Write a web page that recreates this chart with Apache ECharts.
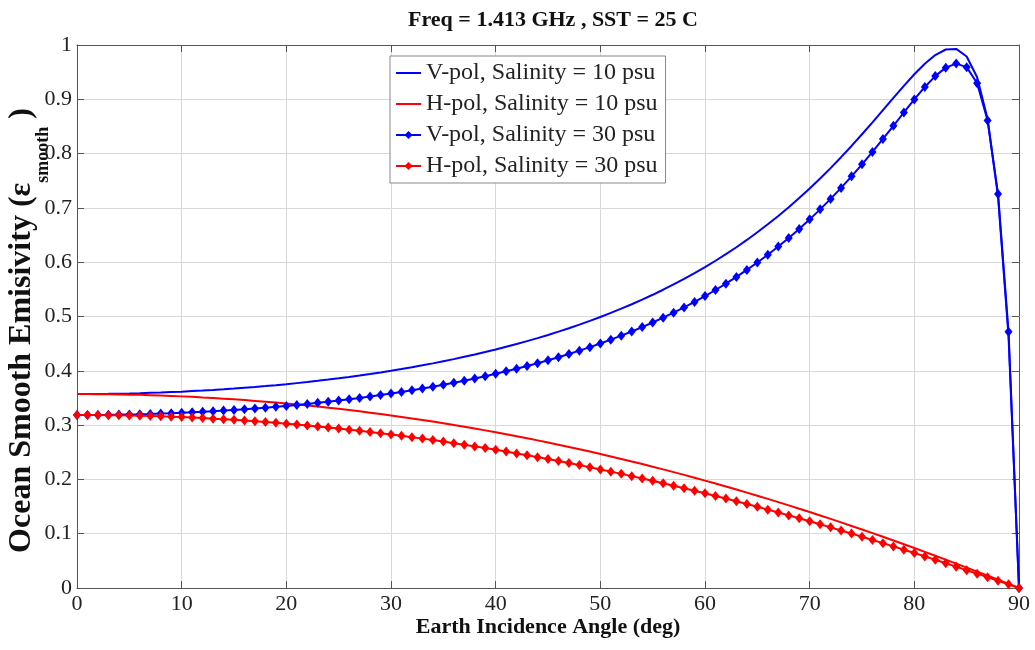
<!DOCTYPE html>
<html>
<head>
<meta charset="utf-8">
<script src="https://cdn.jsdelivr.net/npm/echarts@6/dist/echarts.min.js"></script>
<style>html,body{margin:0;padding:0;background:#fff}#c{width:1035px;height:650px}</style>
</head>
<body>
<div id="c"></div>
<script>
// Earth incidence angle (deg)
const angles = [0,1,2,3,4,5,6,7,8,9,10,11,12,13,14,15,16,17,18,19,20,21,22,23,24,25,26,27,28,29,30,31,32,33,34,35,36,37,38,39,40,41,42,43,44,45,46,47,48,49,50,51,52,53,54,55,56,57,58,59,60,61,62,63,64,65,66,67,68,69,70,71,72,73,74,75,76,77,78,79,80,81,82,83,84,85,86,87,88,89,90];

const vpol10 = [.3572,.3573,.3574,.3576,.3579,.3583,.3588,.3594,.3600,.3608,
.3616,.3626,.3636,.3647,.3659,.3672,.3687,.3702,.3718,.3735,
.3753,.3773,.3793,.3815,.3838,.3862,.3887,.3913,.3941,.3970,
.4001,.4033,.4066,.4101,.4137,.4176,.4215,.4257,.4300,.4345,
.4392,.4442,.4493,.4546,.4602,.4660,.4721,.4784,.4850,.4919,
.4991,.5066,.5144,.5226,.5311,.5400,.5493,.5590,.5692,.5799,
.5910,.6027,.6149,.6276,.6410,.6551,.6698,.6851,.7012,.7181,
.7356,.7541,.7733,.7934,.8141,.8356,.8576,.8800,.9025,.9248,
.9462,.9655,.9815,.9917,.9928,.9787,.9407,.8636,.7206,.4637,
0];

const hpol10 = [.3572,.3572,.3570,.3568,.3565,.3561,.3557,.3551,.3544,.3537,
.3529,.3520,.3509,.3499,.3487,.3474,.3460,.3446,.3431,.3414,
.3397,.3379,.3361,.3341,.3320,.3299,.3276,.3253,.3229,.3204,
.3178,.3151,.3123,.3094,.3065,.3034,.3003,.2971,.2937,.2903,
.2868,.2832,.2796,.2758,.2719,.2680,.2639,.2598,.2556,.2512,
.2468,.2423,.2377,.2331,.2283,.2234,.2185,.2134,.2083,.2031,
.1978,.1924,.1869,.1813,.1756,.1699,.1641,.1581,.1521,.1460,
.1399,.1336,.1273,.1208,.1143,.1077,.1011,.0943,.0875,.0806,
.0736,.0666,.0594,.0522,.0450,.0376,.0302,.0228,.0152,.0077,
0];

const vpol30 = [.3187,.3187,.3188,.3190,.3193,.3197,.3201,.3206,.3213,.3219,
.3227,.3236,.3245,.3255,.3267,.3279,.3292,.3306,.3321,.3336,
.3353,.3371,.3390,.3410,.3431,.3453,.3476,.3500,.3526,.3553,
.3581,.3611,.3641,.3674,.3707,.3743,.3780,.3818,.3858,.3900,
.3944,.3990,.4037,.4087,.4139,.4193,.4250,.4309,.4371,.4436,
.4503,.4574,.4647,.4724,.4805,.4890,.4978,.5070,.5168,.5269,
.5376,.5488,.5605,.5729,.5858,.5994,.6137,.6288,.6447,.6613,
.6789,.6973,.7166,.7368,.7581,.7802,.8031,.8270,.8512,.8757,
.8998,.9227,.9427,.9583,.9657,.9592,.9295,.8609,.7254,.4718,
0];

const hpol30 = [.3187,.3186,.3185,.3183,.3180,.3177,.3172,.3167,.3161,.3154,
.3147,.3138,.3129,.3119,.3108,.3097,.3084,.3071,.3057,.3042,
.3027,.3010,.2993,.2975,.2956,.2937,.2916,.2895,.2873,.2850,
.2826,.2802,.2777,.2751,.2724,.2696,.2667,.2638,.2608,.2577,
.2545,.2513,.2479,.2445,.2410,.2375,.2338,.2301,.2263,.2224,
.2184,.2143,.2102,.2060,.2017,.1974,.1929,.1884,.1838,.1791,
.1744,.1696,.1647,.1597,.1546,.1495,.1443,.1390,.1337,.1283,
.1228,.1173,.1117,.1060,.1002,.0944,.0885,.0826,.0766,.0705,
.0644,.0582,.0519,.0456,.0393,.0328,.0264,.0199,.0133,.0067,
0];

const seriesNames = ['V-pol, Salinity = 10 psu','H-pol, Salinity = 10 psu','V-pol, Salinity = 30 psu','H-pol, Salinity = 30 psu'];
const xTicks = {min:0, max:90, interval:10};
const yTicks = {min:0, max:1, interval:0.1};

const FONT = 'Liberation Serif';
const pairs = (ys) => angles.map((a, i) => [a, ys[i]]);
const axisCol = '#555';

const chart = echarts.init(document.getElementById('c'), null, {renderer:'canvas'});

const baseAxis = {
  type:'value',
  axisLine:{show:true, onZero:false, lineStyle:{color:axisCol, width:1}},
  axisTick:{show:true, inside:true, length:7, lineStyle:{color:axisCol}},
};

chart.setOption({
  animation:false,
  backgroundColor:'#fff',
  title:{
    text:'Freq = 1.413 GHz , SST = 25 C',
    left:548, top:4, textAlign:'center',
    textStyle:{fontFamily:FONT, fontWeight:'bold', fontSize:22, color:'#111'}
  },
  grid:{left:77, right:16, top:45, bottom:62, containLabel:false, outerBoundsMode:'none'},
  legend:{
    data:[
      {name:seriesNames[0], itemStyle:{opacity:0}},
      {name:seriesNames[1], itemStyle:{opacity:0}},
      {name:seriesNames[2]},
      {name:seriesNames[3]}
    ],
    orient:'vertical', left:390, top:56,
    itemWidth:25, itemHeight:10, itemGap:7, padding:[5,8,5,5],
    backgroundColor:'#fff', borderColor:'#888', borderWidth:1,
    selectedMode:false,
    textStyle:{fontFamily:FONT, fontSize:24, lineHeight:24, color:'#222'}
  },
  xAxis:[
    Object.assign({}, baseAxis, {
      min:xTicks.min, max:xTicks.max, interval:xTicks.interval, position:'bottom',
      axisLabel:{margin:5, fontFamily:FONT, fontSize:22, color:'#222'},
      splitLine:{show:true, lineStyle:{color:'#d8d8d8', width:1}},
      name:'Earth Incidence Angle (deg)', nameLocation:'middle', nameGap:28, nameMoveOverlap:false,
      nameTextStyle:{fontFamily:FONT, fontWeight:'bold', fontSize:22, color:'#111'}
    }),
    Object.assign({}, baseAxis, {
      min:xTicks.min, max:xTicks.max, interval:xTicks.interval, position:'top',
      axisLabel:{show:false}, splitLine:{show:false}
    })
  ],
  yAxis:[
    Object.assign({}, baseAxis, {
      min:yTicks.min, max:yTicks.max, interval:yTicks.interval, position:'left',
      axisLabel:{margin:5, fontFamily:FONT, fontSize:22, color:'#222'},
      splitLine:{show:true, lineStyle:{color:'#d8d8d8', width:1}},
      name:'{b|Ocean Smooth Emisivity (}{b|ε}{s|smooth}{e| )}',
      nameLocation:'middle', nameGap:39, nameMoveOverlap:false,
      nameTextStyle:{
        fontFamily:FONT, fontWeight:'bold', fontSize:32, color:'#111',
        rich:{
          b:{fontFamily:FONT, fontWeight:'bold', fontSize:32, lineHeight:32, verticalAlign:'top', color:'#111'},
          e:{fontFamily:FONT, fontWeight:'bold', fontSize:32, lineHeight:32, verticalAlign:'top', color:'#111', padding:[0,28,0,0]},
          s:{fontFamily:FONT, fontWeight:'bold', fontSize:18, lineHeight:18, padding:[28,0,0,0], verticalAlign:'top', color:'#111'}
        }
      }
    }),
    Object.assign({}, baseAxis, {
      min:yTicks.min, max:yTicks.max, interval:yTicks.interval, position:'right',
      axisLabel:{show:false}, splitLine:{show:false}
    })
  ],
  series:[
    {name:seriesNames[0], type:'line', data:pairs(vpol10), symbol:'none',
     lineStyle:{color:'#0000ff', width:2}, itemStyle:{color:'#0000ff'}},
    {name:seriesNames[1], type:'line', data:pairs(hpol10), symbol:'none',
     lineStyle:{color:'#ff0000', width:2}, itemStyle:{color:'#ff0000'}},
    {name:seriesNames[2], type:'line', data:pairs(vpol30), symbol:'diamond', symbolSize:[8,10], showSymbol:true,
     lineStyle:{color:'#0000ff', width:2}, itemStyle:{color:'#0000ff'}},
    {name:seriesNames[3], type:'line', data:pairs(hpol30), symbol:'diamond', symbolSize:[8,10], showSymbol:true,
     lineStyle:{color:'#ff0000', width:2}, itemStyle:{color:'#ff0000'}}
  ]
});
</script>
</body>
</html>
